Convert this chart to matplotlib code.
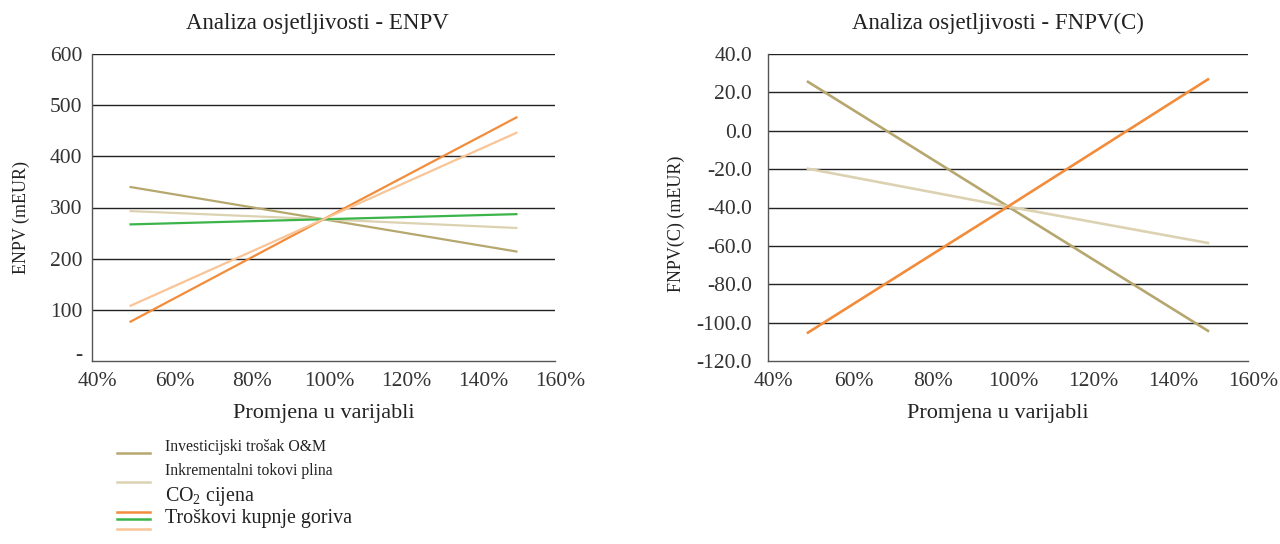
import matplotlib
matplotlib.use("Agg")
import matplotlib.pyplot as plt
import matplotlib.transforms as mtransforms
from matplotlib.lines import Line2D

plt.rcParams['font.family'] = ['Liberation Serif', 'DejaVu Serif']
plt.rcParams['mathtext.fontset'] = 'custom'
plt.rcParams['mathtext.rm'] = 'Liberation Serif'
plt.rcParams['mathtext.it'] = 'Liberation Serif:italic'

# ---- data ----
change = [0.5, 1.0, 1.5]
x_ticks = [0.4, 0.6, 0.8, 1.0, 1.2, 1.4, 1.6]
x_tick_labels = ["40%", "60%", "80%", "100%", "120%", "140%", "160%"]

series_names = ["Investicijski trošak O&M", "Inkrementalni tokovi plina",
                "CO$_2$ cijena", "Troškovi kupnje goriva", ""]
series_colors = ["#B6A76F", "#DCD2B2", "#F28C3A", "#3BB44A", "#F9C496"]

enpv_invest = [340, 277, 214]
enpv_incr = [293, 277, 260]
enpv_co2 = [77, 277, 476]
enpv_fuel = [267, 277, 287]
enpv_other = [108, 277, 446]

fnpv_invest = [25.5, -39.5, -104.3]
fnpv_incr = [-19.8, -39.5, -58.5]
fnpv_co2 = [-105.2, -39.5, 26.8]

enpv_ticks = [0, 100, 200, 300, 400, 500, 600]
enpv_tick_labels = ["-", "100", "200", "300", "400", "500", "600"]
fnpv_ticks = [-120, -100, -80, -60, -40, -20, 0, 20, 40]
fnpv_tick_labels = ["-120.0", "-100.0", "-80.0", "-60.0", "-40.0", "-20.0", "0.0", "20.0", "40.0"]

W, H = 1280, 544
fig = plt.figure(figsize=(W / 100, H / 100), dpi=100)

ax1 = fig.add_axes([92 / W, 1 - 361 / H, 463 / W, 307 / H])
ax2 = fig.add_axes([768 / W, 1 - 361 / H, 480 / W, 307 / H])

FS = 15.5
lw = 1.6

def style(ax, yticks, ylabels, ylim, title, ylabel, ypad, title_x, xlabel_x, ylabel_xy):
    ax.set_xlim(0.4, 1.6)
    ax.set_ylim(*ylim)
    ax.set_xticks(x_ticks)
    ax.set_xticklabels(x_tick_labels, fontsize=FS, color="#333333")
    ax.set_yticks(yticks)
    ax.set_yticklabels(ylabels, fontsize=FS, color="#333333")
    ax.tick_params(length=0)
    ax.tick_params(axis='y', pad=ypad)
    ax.tick_params(axis='x', pad=8)
    offset = mtransforms.ScaledTranslation(5.5 / 100, 0, fig.dpi_scale_trans)
    for lab in ax.get_xticklabels():
        lab.set_transform(lab.get_transform() + offset)
    for y in yticks:
        if y != ylim[0]:
            ax.axhline(y, color="#222222", lw=1.0, zorder=1)
    for s in ["top", "right"]:
        ax.spines[s].set_visible(False)
    for s in ["left", "bottom"]:
        ax.spines[s].set_color("#555555")
        ax.spines[s].set_linewidth(1.0)
    ax.set_title(title, fontsize=16.5, color="#222222", pad=18, x=title_x)
    ax.set_xlabel("Promjena u varijabli", fontsize=16, color="#222222", labelpad=9, x=xlabel_x)
    ax.set_ylabel(ylabel, fontsize=13, color="#222222")
    ax.yaxis.set_label_coords(*ylabel_xy)

style(ax1, enpv_ticks, enpv_tick_labels, (0, 600), "Analiza osjetljivosti - ENPV", "ENPV (mEUR)",
      7, 0.486, 0.501, ((30 - 92) / 463, (361 - 217) / 307))
style(ax2, fnpv_ticks, fnpv_tick_labels, (-120, 40), "Analiza osjetljivosti - FNPV(C)", "FNPV(C) (mEUR)",
      11.5, 0.479, 0.479, ((685 - 768) / 480, (361 - 224) / 307))

# lift the "-" zero label slightly, as in the reference
up = mtransforms.ScaledTranslation(0, 8 / 100, fig.dpi_scale_trans)
zero_lab = ax1.get_yticklabels()[0]
zero_lab.set_transform(zero_lab.get_transform() + up)

for vals, c in zip([enpv_invest, enpv_incr, enpv_co2, enpv_fuel, enpv_other], series_colors):
    ax1.plot(change, vals, color=c, lw=lw, zorder=3)
for vals, c in zip([fnpv_invest, fnpv_incr, fnpv_co2], series_colors[:3]):
    ax2.plot(change, vals, color=c, lw=lw + 0.3, zorder=3)

# ---- legend (manual, figure coordinates) ----
swatch_y = [453, 482, 512, 519, 529]
text_y = [447, 471, 497, 518]
text_fs = [11.3, 11.3, 14.4, 14.4]
for c, y in zip(series_colors, swatch_y):
    fig.add_artist(Line2D([117 / W, 150 / W], [1 - y / H, 1 - y / H], color=c, lw=1.8))
for name, y, fs in zip(series_names[:4], text_y, text_fs):
    fig.text(165 / W, 1 - y / H, name, fontsize=fs, va="center", ha="left", color="#222222")

fig.savefig("out.png", dpi=100)
